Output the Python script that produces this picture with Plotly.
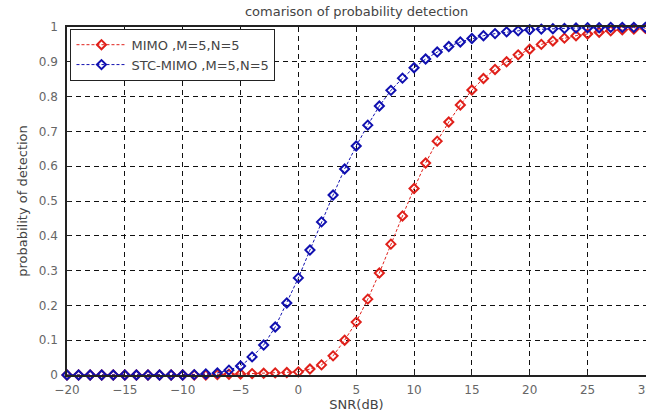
import plotly.graph_objects as go

snr = list(range(-20, 31))

# MIMO, M=5, N=5  (x = -20 ... 30)
mimo = [0, 0, 0, 0, 0, 0, 0, 0, 0, 0, 0, 0, 0,            # -20 .. -8
        0.001, 0.002, 0.003, 0.004, 0.005, 0.006, 0.007,   # -7 .. -1
        0.009, 0.017, 0.029, 0.055, 0.10, 0.152,            # 0 .. 5
        0.218, 0.293, 0.376, 0.457, 0.536,                  # 6 .. 10
        0.609, 0.672, 0.727, 0.776, 0.819,                  # 11 .. 15
        0.852, 0.878, 0.90, 0.92, 0.936,                    # 16 .. 20
        0.95, 0.96, 0.968, 0.975, 0.98,                     # 21 .. 25
        0.985, 0.989, 0.992, 0.994, 0.996]                  # 26 .. 30

# STC-MIMO, M=5, N=5
stc = [0, 0, 0, 0, 0, 0, 0, 0, 0, 0, 0,                    # -20 .. -10
       0.001, 0.003,                                        # -9, -8
       0.006, 0.014, 0.026, 0.052, 0.086, 0.138, 0.207,     # -7 .. -1
       0.279, 0.359, 0.44, 0.517, 0.592, 0.658,             # 0 .. 5
       0.718, 0.773, 0.818, 0.853, 0.883,                   # 6 .. 10
       0.908, 0.928, 0.944, 0.957, 0.967,                   # 11 .. 15
       0.975, 0.981, 0.986, 0.989, 0.992,                   # 16 .. 20
       0.994, 0.995, 0.996, 0.997, 0.998,                   # 21 .. 25
       0.998, 0.999, 0.999, 0.999, 0.999]                   # 26 .. 30

xticks = [-20, -15, -10, -5, 0, 5, 10, 15, 20, 25, 30]
yticks = [0, 0.1, 0.2, 0.3, 0.4, 0.5, 0.6, 0.7, 0.8, 0.9, 1]
ytext = ["0", "0.1", "0.2", "0.3", "0.4", "0.5", "0.6", "0.7", "0.8", "0.9", "1"]

FONT = "DejaVu Sans, Verdana, sans-serif"

fig = go.Figure()
fig.add_trace(go.Scatter(
    x=snr, y=mimo, mode="lines+markers", name="MIMO ,M=5,N=5",
    line=dict(color="#e0201a", width=1, dash="3px,2px"),
    marker=dict(symbol="diamond-open", size=7, color="#e0201a", line=dict(width=2)),
    cliponaxis=False,
))
fig.add_trace(go.Scatter(
    x=snr, y=stc, mode="lines+markers", name="STC-MIMO ,M=5,N=5",
    line=dict(color="#1010b0", width=1, dash="3px,2px"),
    marker=dict(symbol="diamond-open", size=7, color="#1010b0", line=dict(width=2)),
    cliponaxis=False,
))

axis_common = dict(
    showline=True, linecolor="#222", linewidth=1.5, mirror=True,
    showgrid=True, gridcolor="#111", gridwidth=1.3, griddash="5px,4px",
    ticks="inside", ticklen=4, tickcolor="#222",
    zeroline=False, automargin=False,
    tickfont=dict(family=FONT, size=12, color="#666"),
)

fig.update_layout(
    width=646, height=412,
    margin=dict(l=67, r=0, t=27, b=37),
    paper_bgcolor="white", plot_bgcolor="white",
    title=dict(text="comarison of probability detection", x=0.552, xanchor="center",
               y=0.972, yanchor="middle",
               font=dict(family=FONT, size=13, color="#444")),
    xaxis=dict(range=[-20, 30.05], tickvals=xticks, ticklabelstandoff=3,
               ticklabeloverflow="allow",
               title=dict(text="SNR(dB)", standoff=4,
                          font=dict(family=FONT, size=13, color="#444")),
               **axis_common),
    yaxis=dict(range=[0, 1], tickvals=yticks, ticktext=ytext, ticklabelstandoff=5,
               title=dict(text="probability of detection", standoff=8,
                          font=dict(family=FONT, size=13, color="#444")),
               **axis_common),
    legend=dict(x=0.006, y=0.995, xanchor="left", yanchor="top",
                bgcolor="white", bordercolor="#222", borderwidth=1,
                font=dict(family=FONT, size=13, color="#444"),
                tracegroupgap=0, itemwidth=50),
    showlegend=True,
)

fig.write_html("out.html")
